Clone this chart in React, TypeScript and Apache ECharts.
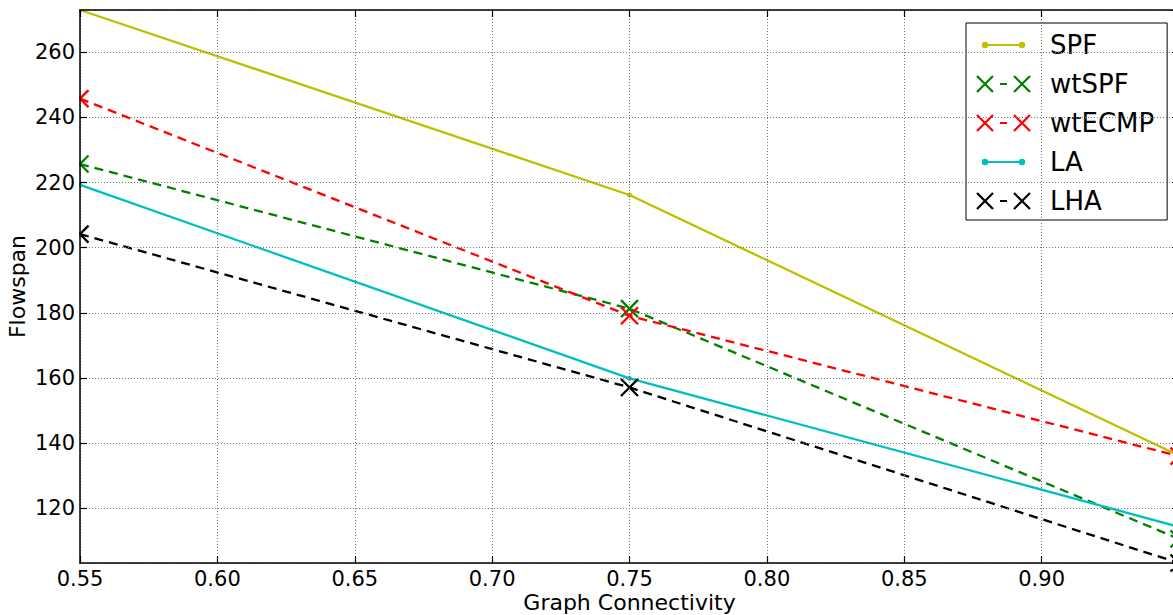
import React, { useEffect, useRef } from "react";
import * as echarts from "echarts";

// ---- data ----
const connectivity = [0.55, 0.75, 0.95];
const spf = [273, 216.2, 136.2];
const wtSpf = [225.7, 181.3, 110.6];
const wtEcmp = [245.8, 179.1, 136];
const la = [219.3, 159.9, 114.3];
const lha = [204.2, 157.1, 103.2];
const seriesNames = ["SPF", "wtSPF", "wtECMP", "LA", "LHA"];
const seriesValues = [spf, wtSpf, wtEcmp, la, lha];

// ---- styles ----
const colors = ["#bfbf00", "#008000", "#ff0000", "#00bfbf", "#000000"];
const dashed = [false, true, true, false, true];
const crossMarker = [false, true, true, false, true];
const FONT = "DejaVu Sans";

// legend icon paths (58 x 18 frame)
const IW = 58;
const IH = 18;
const frame = `M0,0L0,0M${IW},${IH}L${IW},${IH}`;
function xShape(cx: number, cy: number, h: number, d: number) {
  const a1 = `M${cx - h - d},${cy - h + d}L${cx - h + d},${cy - h - d}L${cx + h + d},${cy + h - d}L${cx + h - d},${cy + h + d}Z`;
  const a2 = `M${cx + h - d},${cy - h - d}L${cx + h + d},${cy - h + d}L${cx - h + d},${cy + h + d}L${cx - h - d},${cy + h - d}Z`;
  return a1 + a2;
}
function circle(cx: number, cy: number, r: number) {
  return `M${cx - r},${cy}A${r},${r} 0 1 1 ${cx + r},${cy}A${r},${r} 0 1 1 ${cx - r},${cy}Z`;
}
const dotIcon =
  "path://" + frame + `M14,7.9L45,7.9L45,10.1L14,10.1Z` + circle(11, 9, 3.2) + circle(48, 9, 3.2);
const crossIcon =
  "path://" + frame + xShape(11, 9, 8, 0.8) + xShape(48, 9, 8, 0.8) + `M26,7.9L33,7.9L33,10.1L26,10.1Z`;

const allValues = seriesValues.flat();
const yMin = Math.min(...allValues);
const yMax = Math.max(...allValues);

export default function App() {
  const ref = useRef<HTMLDivElement>(null);

  useEffect(() => {
    if (!ref.current) return;
    const chart = echarts.init(ref.current, null, { renderer: "svg" });

    const series = seriesNames.map((name, i) => ({
      name,
      type: "line",
      data: connectivity.map((x, j) => [x, seriesValues[i][j]]),
      symbol: crossMarker[i] ? "path://M0,0L1,1M1,0L0,1" : "circle",
      symbolSize: crossMarker[i] ? 17 : 5,
      showAllSymbol: true,
      clip: true,
      silent: true,
      z: 2,
      lineStyle: { color: colors[i], width: 2.3, type: dashed[i] ? [9, 6] : "solid" },
      itemStyle: crossMarker[i]
        ? { color: colors[i], borderColor: colors[i], borderWidth: 2.3 }
        : { color: colors[i], borderWidth: 0 },
      emphasis: { disabled: true },
    }));

    const axisLine = { show: true, lineStyle: { color: "#000", width: 1.5 } };
    const axisTick = { show: true, inside: true, length: 7, lineStyle: { color: "#000", width: 1.2 } };
    const gridLine = { show: true, lineStyle: { color: "#777", width: 1, type: [1, 2] } };

    const yCommon = {
      type: "value",
      min: yMin,
      max: yMax,
      splitNumber: 8,
      minInterval: 20,
      maxInterval: 20,
      z: 10,
      axisLine,
      axisTick,
    };
    const xCommon = {
      type: "value",
      min: 0.55,
      max: 0.95,
      interval: 0.05,
      z: 10,
      axisLine,
      axisTick,
    };

    chart.setOption({
      animation: false,
      backgroundColor: "#fff",
      textStyle: { fontFamily: FONT },
      grid: {
        left: 80,
        top: 10,
        right: 1,
        bottom: 52,
        containLabel: false,
        outerBoundsMode: "none",
      },
      xAxis: [
        {
          ...xCommon,
          position: "bottom",
          axisLabel: {
            fontSize: 21,
            lineHeight: 20,
            color: "#000",
            fontFamily: FONT,
            margin: 5.5,
            showMaxLabel: false,
            formatter: (v: number) => v.toFixed(2),
          },
          splitLine: gridLine,
          name: "Graph Connectivity",
          nameLocation: "middle",
          nameGap: 28,
          nameMoveOverlap: false,
          nameTextStyle: { fontSize: 22, lineHeight: 22, color: "#000", fontFamily: FONT },
        },
        {
          ...xCommon,
          position: "top",
          axisLabel: { show: false },
          splitLine: { show: false },
        },
      ],
      yAxis: [
        {
          ...yCommon,
          position: "left",
          axisLabel: {
            fontSize: 21,
            color: "#000",
            fontFamily: FONT,
            margin: 5,
            showMinLabel: false,
            showMaxLabel: false,
            formatter: (v: number) => (Math.abs(v % 20) < 1e-6 ? String(Math.round(v)) : ""),
          },
          splitLine: gridLine,
          name: "Flowspan",
          nameLocation: "middle",
          nameRotate: 90,
          nameGap: 52,
          nameMoveOverlap: false,
          nameTextStyle: { fontSize: 22, color: "#000", fontFamily: FONT },
        },
        {
          ...yCommon,
          position: "right",
          axisLabel: { show: false },
          splitLine: { show: false },
        },
      ],
      legend: {
        orient: "vertical",
        left: 966,
        top: 23,
        padding: [9, 13, 6, 8],
        itemGap: 13,
        itemWidth: IW,
        itemHeight: IH,
        backgroundColor: "#fff",
        borderColor: "#000",
        borderWidth: 1,
        borderRadius: 0,
        selectedMode: false,
        textStyle: {
          fontSize: 26,
          lineHeight: 26,
          color: "#000",
          fontFamily: FONT,
          padding: [0, 0, 0, 13],
        },
        data: seriesNames.map((name, i) => ({
          name,
          icon: crossMarker[i] ? crossIcon : dotIcon,
          itemStyle: { color: colors[i], borderWidth: 0 },
        })),
      },
      graphic: [
        // mask marker parts outside the plot area (as the reference clips them)
        { type: "rect", z: 5, silent: true, shape: { x: 0, y: 0, width: 79.3, height: 565 }, style: { fill: "#fff" } },
        { type: "rect", z: 5, silent: true, shape: { x: 0, y: 0, width: 1180, height: 9.3 }, style: { fill: "#fff" } },
        { type: "rect", z: 5, silent: true, shape: { x: 1100, y: 564, width: 80, height: 5 }, style: { fill: "#fff" } },
      ],
      series,
    });

    return () => chart.dispose();
  }, []);

  return (
    <div
      style={{
        position: "fixed",
        left: 0,
        top: 0,
        width: 1173,
        height: 615,
        overflow: "hidden",
        background: "#fff",
      }}
    >
      <div ref={ref} style={{ width: 1180, height: 615 }} />
    </div>
  );
}
